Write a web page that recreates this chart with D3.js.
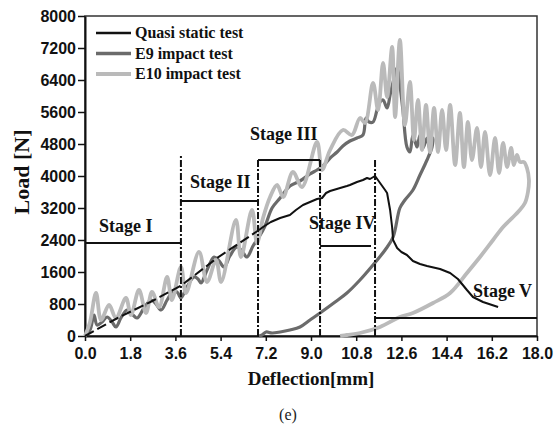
<!DOCTYPE html>
<html>
<head>
<meta charset="utf-8">
<script src="https://cdn.jsdelivr.net/npm/d3@7"></script>
<style>
  html, body { margin: 0; padding: 0; background: #fff; }
  svg { display: block; }
  .serif { font-family: "Liberation Serif", "DejaVu Serif", "Times New Roman", Times, serif; font-weight: bold; }
  .sans { font-family: "Liberation Sans", Arial, Helvetica, sans-serif; font-weight: bold; }
</style>
</head>
<body>
<svg id="chart" width="556" height="424"></svg>
<script>
// ---- tick values ----
const xTicks = [0, 1.8, 3.6, 5.4, 7.2, 9.0, 10.8, 12.6, 14.4, 16.2, 18.0];
const yTicks = [0, 800, 1600, 2400, 3200, 4000, 4800, 5600, 6400, 7200, 8000];

// ---- series: [deflection mm, load N] ----
const seriesNames = ["Quasi static test", "E9 impact test", "E10 impact test"];

// quasi static test, initial linear part (dashed)
const quasiInitial = [
  [0, 0], [1.3, 450], [2.6, 850], [3.8, 1250], [5.26, 1950], [6.93, 2650]
];
// quasi static test, remainder
const quasiStatic = [
  [6.93, 2650], [7.09, 2725], [7.4, 2850], [7.77, 2950], [8.16, 3025], [8.4, 3150],
  [8.68, 3275], [8.96, 3350], [9.24, 3425], [9.44, 3450], [9.6, 3575], [9.76, 3625],
  [10.16, 3700], [10.43, 3750], [10.55, 3775], [10.83, 3850], [11.07, 3900],
  [11.23, 3950], [11.35, 3925], [11.55, 4000], [11.75, 3825], [11.95, 3650],
  [12.03, 3575], [12.15, 3150], [12.23, 2725], [12.27, 2400], [12.43, 2200],
  [12.6, 2100], [12.82, 2025], [13.06, 1875], [13.34, 1800], [13.62, 1750],
  [14.14, 1675], [14.54, 1575], [14.85, 1425], [15.21, 1150], [15.45, 975],
  [15.85, 850], [16.45, 725]
];

const e9Impact = [
  [0, 0], [0.20, 150], [0.36, 525], [0.48, 275], [0.68, 350], [0.88, 475], [1.08, 350],
  [1.23, 225], [1.43, 450], [1.67, 650], [1.87, 550], [2.07, 450], [2.35, 700],
  [2.63, 900], [2.83, 800], [3.03, 650], [3.27, 900], [3.54, 1150], [3.70, 1075],
  [3.82, 950], [4.06, 1225], [4.34, 1475], [4.50, 1425], [4.62, 1325], [4.86, 1650],
  [5.14, 1975], [5.34, 1875], [5.54, 1725], [5.77, 2000], [6.05, 2225], [6.25, 2125],
  [6.45, 1975], [6.69, 2250], [6.93, 2475], [7.17, 2750], [7.45, 3200], [7.77, 3450],
  [8.16, 3750], [8.56, 3875], [8.96, 4050], [9.24, 4150], [9.48, 4250], [9.76, 4450],
  [10.04, 4600], [10.27, 4750], [10.55, 4875], [10.83, 4950], [11.07, 5025],
  [11.19, 5450], [11.31, 5350], [11.47, 5350], [11.63, 5650], [11.75, 5850],
  [11.87, 5900], [12.03, 5700], [12.15, 6025], [12.27, 6350], [12.43, 6700],
  [12.54, 6275], [12.66, 5650], [12.82, 4725], [12.94, 4600], [13.06, 5025],
  [13.22, 4725], [13.34, 5025], [13.46, 4700], [13.62, 4950], [13.74, 4650],
  [13.86, 4950], [13.82, 4725], [13.62, 4400], [13.34, 4025], [13.06, 3650],
  [12.74, 3400], [12.54, 3200], [12.27, 2475], [11.95, 2150], [11.47, 1775],
  [10.95, 1400], [10.43, 1075], [9.96, 850], [9.36, 575], [8.96, 400], [8.56, 225],
  [8.16, 150], [7.77, 100], [7.45, 75], [7.21, 100], [7.05, 25], [6.93, 0]
];

const e10Impact = [
  [0, 0], [0.20, 350], [0.44, 1075], [0.64, 400], [0.96, 775], [1.23, 450],
  [1.63, 950], [1.83, 525], [2.15, 1150], [2.43, 575], [2.67, 1100], [2.95, 725],
  [3.27, 1475], [3.46, 900], [3.82, 1725], [4.02, 1075], [4.54, 2100], [4.86, 1350],
  [5.22, 1900], [5.42, 1350], [6.01, 2900], [6.21, 1975], [6.65, 3150], [6.85, 2325],
  [7.09, 2950], [7.37, 3475], [7.65, 3775], [7.89, 3475], [8.28, 4100], [8.64, 3725],
  [9.24, 4850], [9.44, 4150], [9.76, 4650], [10.27, 5150], [10.63, 5025],
  [10.95, 5450], [11.15, 5325], [11.47, 6325], [11.67, 5650], [11.87, 6825],
  [12.03, 5975], [12.23, 7225], [12.35, 5475], [12.54, 7400], [12.74, 5275],
  [12.94, 6350], [13.10, 4900], [13.26, 5900], [13.42, 4650], [13.58, 5775],
  [13.74, 4600], [13.90, 5700], [14.06, 4600], [14.22, 5650], [14.38, 4650],
  [14.54, 5775], [14.74, 4275], [14.93, 5575], [15.09, 4225], [15.25, 5350],
  [15.41, 4400], [15.61, 5200], [15.77, 4225], [15.93, 5100], [16.13, 4025],
  [16.33, 4950], [16.49, 4075], [16.65, 4825], [16.81, 4225], [16.97, 4700],
  [17.08, 4275], [17.20, 4525], [17.32, 4350], [17.48, 4350], [17.60, 4200],
  [17.68, 3900], [17.64, 3600], [17.52, 3325], [17.28, 3125], [17.05, 2975],
  [16.65, 2725], [16.25, 2400], [15.73, 1975], [15.21, 1575], [14.54, 1075],
  [13.86, 825], [13.06, 575], [12.54, 475], [11.75, 225], [10.95, 75], [10.43, 25],
  [10.16, 0]
];

// ---- deformation stages ----
const stageNames = ["Stage I", "Stage II", "Stage III", "Stage IV", "Stage V"];
const stageBarStart = [0, 3.82, 6.89, 9.36, 11.55];     // mm
const stageBarEnd = [3.82, 6.89, 9.36, 11.39, 18];     // mm
const stageBarLoad = [2325, 3375, 4400, 2250, 450];    // N
const dividerAt = [3.82, 6.89, 9.36, 11.55];            // mm
const dividerTop = [4525, 4450, 4400, 4450];            // N
const stageLabelX = [0.56, 4.18, 6.57, 8.92, 15.45];    // mm
const stageLabelY = [2600, 3700, 4900, 2675, 975];      // N

// ---- layout ----
const svg = d3.select("#chart");
const plotLeft = 85, plotRight = 537, plotTop = 16, plotBottom = 336;

const x = d3.scaleLinear().domain([0, 18]).range([plotLeft, plotRight]);
const y = d3.scaleLinear().domain([0, 8000]).range([plotBottom, plotTop]);

// frame
svg.append("rect")
  .attr("x", plotLeft).attr("y", plotTop)
  .attr("width", plotRight - plotLeft).attr("height", plotBottom - plotTop)
  .attr("fill", "none").attr("stroke", "#333").attr("stroke-width", 1.5);

// axes
const xAxis = svg.append("g")
  .attr("transform", `translate(0,${plotBottom})`)
  .call(d3.axisBottom(x).tickValues(xTicks).tickFormat(d3.format(".1f"))
    .tickSize(5).tickSizeOuter(0).tickPadding(7));
const yAxis = svg.append("g")
  .attr("transform", `translate(${plotLeft},0)`)
  .call(d3.axisLeft(y).tickValues(yTicks).tickFormat(d3.format("d"))
    .tickSize(7).tickSizeOuter(0).tickPadding(2));

[xAxis, yAxis].forEach(g => {
  g.attr("font-family", null).attr("font-size", null);
  g.select(".domain").attr("stroke", "#111").attr("stroke-width", 2);
  g.selectAll(".tick line").attr("stroke", "#111").attr("stroke-width", 1.5);
  g.selectAll(".tick text")
    .attr("class", "sans")
    .attr("fill", "#111")
    .style("font-size", "16px");
});

// axis titles
svg.append("text")
  .attr("class", "serif")
  .attr("x", (plotLeft + plotRight) / 2).attr("y", 385)
  .attr("text-anchor", "middle")
  .style("font-size", "19px")
  .attr("fill", "#111")
  .text("Deflection[mm]");

svg.append("text")
  .attr("class", "serif")
  .attr("transform", `translate(29,${(plotTop + plotBottom) / 2 - 4}) rotate(-90)`)
  .attr("text-anchor", "middle")
  .style("font-size", "22px")
  .attr("fill", "#111")
  .text("Load [N]");

svg.append("text")
  .attr("class", "serif")
  .attr("x", 288).attr("y", 420)
  .attr("text-anchor", "middle")
  .style("font-size", "16px").style("font-weight", "normal")
  .attr("fill", "#222")
  .text("(e)");

// curves
const line = d3.line().x(d => x(d[0])).y(d => y(d[1]));
const smooth = d3.line().x(d => x(d[0])).y(d => y(d[1])).curve(d3.curveCatmullRom.alpha(0.5));

svg.append("path").datum(e9Impact)
  .attr("d", smooth).attr("fill", "none")
  .attr("stroke", "#6b6b6b").attr("stroke-width", 3.2).attr("stroke-linejoin", "round");

svg.append("path").datum(e10Impact)
  .attr("d", smooth).attr("fill", "none")
  .attr("stroke", "#bababa").attr("stroke-width", 3.8).attr("stroke-linejoin", "round");

svg.append("path").datum(quasiInitial)
  .attr("d", line).attr("fill", "none")
  .attr("stroke", "#111").attr("stroke-width", 2).attr("stroke-dasharray", "10,4");

svg.append("path").datum(quasiStatic)
  .attr("d", line).attr("fill", "none")
  .attr("stroke", "#111").attr("stroke-width", 2).attr("stroke-linejoin", "round");

// stage dividers and bars
const stages = svg.append("g");
dividerAt.forEach((d, i) => {
  stages.append("line")
    .attr("x1", x(d)).attr("x2", x(d))
    .attr("y1", y(0)).attr("y2", y(dividerTop[i]))
    .attr("stroke", "#111").attr("stroke-width", 2)
    .attr("stroke-dasharray", "7,2,2,2");
});
stageNames.forEach((name, i) => {
  stages.append("line")
    .attr("x1", x(stageBarStart[i])).attr("x2", x(stageBarEnd[i]))
    .attr("y1", y(stageBarLoad[i])).attr("y2", y(stageBarLoad[i]))
    .attr("stroke", "#111").attr("stroke-width", 2);
  stages.append("text")
    .attr("class", "serif")
    .attr("x", x(stageLabelX[i])).attr("y", y(stageLabelY[i]))
    .style("font-size", "18px")
    .attr("fill", "#111")
    .text(name);
});

// legend
const legendColors = ["#111", "#6b6b6b", "#bababa"];
const legendWidths = [2.5, 3.5, 3.8];
const legend = svg.append("g");
seriesNames.forEach((name, i) => {
  const ly = 33 + i * 20.5;
  legend.append("line")
    .attr("x1", 96).attr("x2", 131).attr("y1", ly).attr("y2", ly)
    .attr("stroke", legendColors[i]).attr("stroke-width", legendWidths[i]);
  legend.append("text")
    .attr("class", "serif")
    .attr("x", 135).attr("y", ly + 5)
    .style("font-size", "16px")
    .attr("fill", "#111")
    .text(name);
});
</script>
</body>
</html>
